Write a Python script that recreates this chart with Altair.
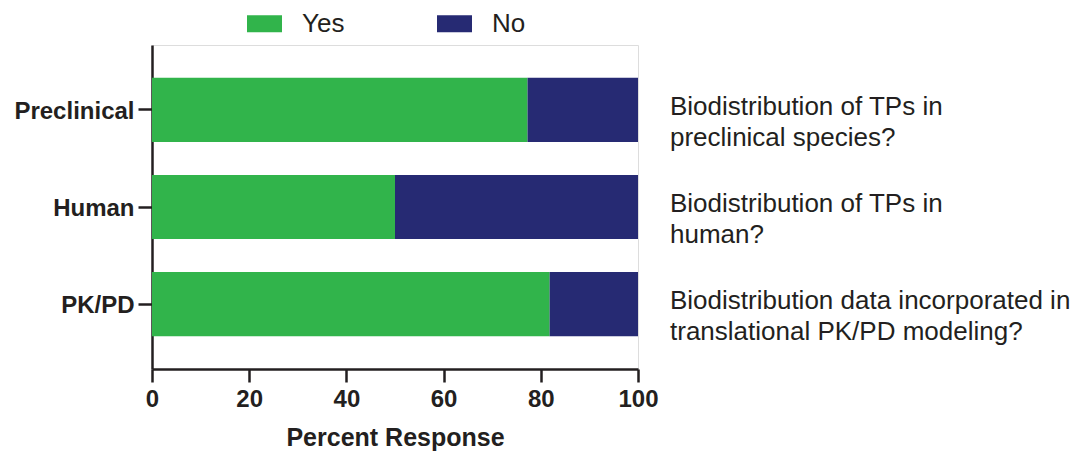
import altair as alt
import pandas as pd

categories = ["Preclinical", "Human", "PK/PD"]
yes_values = [77.27, 50.0, 81.82]
no_values = [22.73, 50.0, 18.18]
responses = ["Yes", "No"]
questions = [
    "Biodistribution of TPs in\npreclinical species?",
    "Biodistribution of TPs in\nhuman?",
    "Biodistribution data incorporated in\ntranslational PK/PD modeling?",
]
x_ticks = [0, 20, 40, 60, 80, 100]

rows = []
for c, y, n in zip(categories, yes_values, no_values):
    rows.append({"Category": c, "Response": "Yes", "Percent": y, "ord": 0})
    rows.append({"Category": c, "Response": "No", "Percent": n, "ord": 1})
df = pd.DataFrame(rows)
qdf = pd.DataFrame({"Category": categories, "Question": questions})

DARK = "#231F20"
FONT = "Liberation Sans"

yscale = alt.Scale(domain=categories, paddingInner=0.34, paddingOuter=0.338)

bars = alt.Chart(df).mark_bar().encode(
    x=alt.X("Percent:Q", stack="zero",
            scale=alt.Scale(domain=[0, 100], nice=False),
            axis=alt.Axis(values=x_ticks, title="Percent Response", grid=False,
                          domainColor=DARK, domainWidth=2.5, tickColor=DARK,
                          tickWidth=2.5, tickSize=13, labelFont=FONT,
                          labelFontSize=24, labelFontWeight="bold",
                          labelColor=DARK, labelPadding=5, labelFlush=False,
                          titleFont=FONT, titleFontSize=25,
                          titleFontWeight="bold", titleColor=DARK,
                          titlePadding=14)),
    y=alt.Y("Category:N", scale=yscale,
            axis=alt.Axis(title=None, domainColor=DARK, domainWidth=2.5,
                          tickColor=DARK, tickWidth=2.5, tickSize=14,
                          labelFont=FONT, labelFontSize=24,
                          labelFontWeight="bold", labelColor=DARK,
                          labelPadding=4, labelBaseline="middle", labelOffset=2)),
    color=alt.Color("Response:N",
                    scale=alt.Scale(domain=responses, range=["#31B44B", "#262A73"]),
                    legend=alt.Legend(title=None, orient="none", direction="horizontal",
                                      legendX=95, legendY=-39, padding=0,
                                      symbolType="M-1,-0.48H1V0.48H-1Z",
                                      symbolSize=1225, symbolStrokeWidth=0,
                                      symbolOpacity=1,
                                      labelFont=FONT, labelFontSize=26,
                                      labelColor=DARK, labelOffset=20,
                                      columnPadding=92)),
    order=alt.Order("ord:Q"),
)

notes = alt.Chart(qdf).mark_text(
    align="left", baseline="top", dy=-16, font=FONT, fontSize=26,
    lineHeight=31, lineBreak="\n", color=DARK,
).encode(
    y=alt.Y("Category:N", scale=yscale),
    x=alt.value(518),
    text="Question:N",
)

chart = alt.layer(bars, notes).properties(
    width=486, height=324,
    autosize=alt.AutoSizeParams(type="none"),
    padding={"left": 144, "top": 37, "right": 442, "bottom": 82},
).configure_view(stroke=None).configure(background="white")

chart.save("out.html", embed_options={"renderer": "svg", "actions": False})
